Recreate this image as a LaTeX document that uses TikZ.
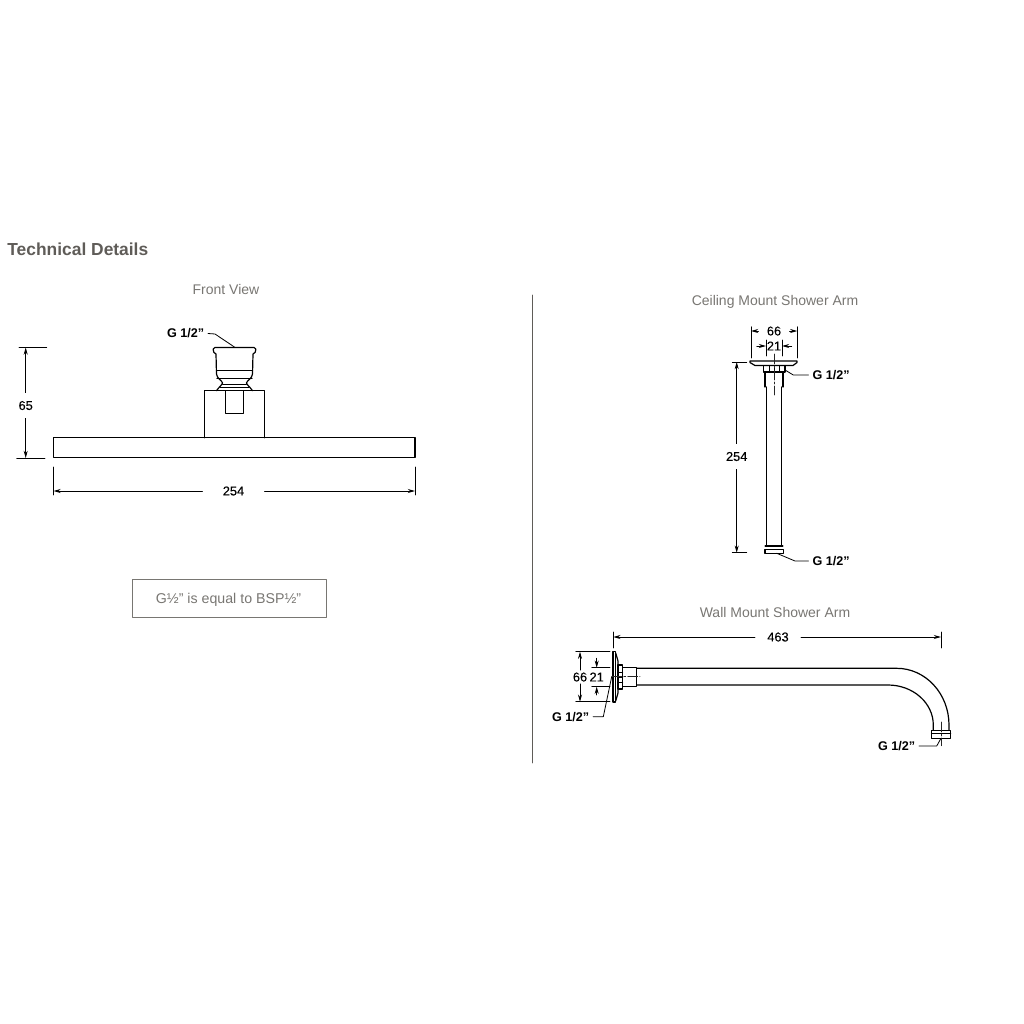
\documentclass[tikz,border=0pt]{standalone}
\usepackage{fontspec}
\setmainfont{Liberation Sans}
\newfontfamily\dimfont[FakeBold=0.2]{Liberation Sans}
\definecolor{headgray}{RGB}{95,92,88}
\definecolor{titlegray}{RGB}{120,118,114}
\usetikzlibrary{arrows.meta}
\tikzset{
	part/.style={line width=0.6pt, black},
	thin part/.style={line width=0.4pt, black},
	dimline/.style={line width=0.4pt, black, {Stealth[length=3.6pt,width=2pt]}-},
	extline/.style={line width=0.4pt, black},
	leader/.style={line width=0.4pt, black},
	centreline/.style={line width=0.3pt, black!85, dash pattern=on 5pt off 1pt on 1pt off 1pt},
	dimlabel/.style={font=\fontsize{6.4}{7}\dimfont, black, inner sep=1.5pt},
	threadlabel/.style={font=\fontsize{6.3}{7}\selectfont\bfseries, black, inner sep=0pt, outer xsep=2pt},
	viewtitle/.style={font=\fontsize{7}{9}\selectfont, titlegray, inner sep=0pt, text height=5.2pt, text depth=1.5pt},
}
\begin{document}
\begin{tikzpicture}[x=0.5pt, y=-0.5pt, line join=round, line cap=round]
	\useasboundingbox (0,0) rectangle (1024,1024);
	\node[anchor=west, inner sep=0pt, font=\fontsize{8.7}{10}\selectfont\bfseries, headgray] (heading) at (7,249) {Technical Details};
	\node[viewtitle] (front title) at (226,291) {Front View};
	\node[viewtitle] (ceiling title) at (775,302) {Ceiling Mount Shower Arm};
	\node[viewtitle] (wall title) at (775,614) {Wall Mount Shower Arm};
	\draw[line width=0.4pt, headgray] (532.5,295)--(532.5,763);
	\node[draw=headgray, line width=0.35pt, minimum width=97pt, minimum height=19pt, inner sep=0pt, titlegray] (note) at (229,598) {};
	\node[viewtitle, font=\fontsize{7.1}{9}\selectfont] (note text) at (228.5,600) {G½” is equal to BSP½”};

	% front view
	\draw[part] (53.5,437.7) rectangle (415,457.7);
	\draw[part] (204.5,437.7)--(204.5,390.7)--(264.5,390.7)--(264.5,437.7);
	\draw[part] (225.5,390.7)--(225.5,413.3)--(243.5,413.3)--(243.5,390.7);
	\draw[part] (216.5,390.7)..controls (219,387) and (222,385) .. (222.5,383)
		..controls (222,380) and (217,379) .. (216.5,374)--(216,354)
		..controls (214,353) and (213.3,352) .. (213.3,350)--(213.3,349)
		..controls (213.3,348) and (214,347.4) .. (215,347.4)--(254,347.4)
		..controls (255,347.4) and (255.7,348) .. (255.7,349)--(255.7,350)
		..controls (255.7,352) and (255,353) .. (253,354)--(252.5,374)
		..controls (252,379) and (247,380) .. (246.5,383)
		..controls (247,385) and (250,387) .. (252.5,390.7);
	\draw[part] (216.5,370.7)--(252.5,370.7);
	\draw[part] (217,378.5)--(252,378.5);
	\draw[thin part] (222.5,384)--(246.5,384);
	\draw[thin part] (220,387)--(249,387);
	\coordinate (front cup) at (235,347.4);
	\node[threadlabel, anchor=west] (front thread) at (163,333.5) {G 1/2"};
	\draw[leader] (front thread.east)--(215,334)--(front cup);
	\coordinate (h top) at (25.7,347.5);
	\coordinate (h bot) at (25.7,458);
	\draw[extline] (19,347.5)--(46.7,347.5);
	\draw[extline] (16.7,458)--(45,458);
	\node[dimlabel, inner ysep=4pt] (dim65) at (25.7,405.5) {65};
	\draw[dimline] (h top)--(dim65);
	\draw[dimline] (h bot)--(dim65);
	\coordinate (w left) at (53.5,491);
	\coordinate (w right) at (415,491);
	\draw[extline] (53.5,467)--(53.5,495);
	\draw[extline] (415,467)--(415,495);
	\node[dimlabel, inner xsep=10pt] (dim254) at (233.5,491) {254};
	\draw[dimline] (w left)--(dim254);
	\draw[dimline] (w right)--(dim254);

	% ceiling mount
	\draw[part] (750,361)--(797,361)--(797,362.5)--(793,365.5)--(755,365.5)--(750,362.5)--cycle;
	\draw[part] (763.3,365.5) rectangle (785,372);
	\draw[thin part] (769,365.5)--(769,372) (774,365.5)--(774,372) (779.5,365.5)--(779.5,372);
	\draw[part] (765,372)--(765,387) (783,372)--(783,387);
	\draw[part] (766.3,387)--(766.3,545) (781.7,387)--(781.7,545);
	\draw[line width=1.1pt] (765.5,546)--(782.5,546);
	\draw[part] (765,549.3) rectangle (783.3,553.3);
	\draw[centreline] (774,354)--(774,395);
	\coordinate (ceiling nut) at (785,370);
	\coordinate (ceiling end) at (776.7,553.3);
	\coordinate (c66 l) at (751,331);
	\coordinate (c66 r) at (797.3,331);
	\draw[extline] (751,326.7)--(751,358) (797.3,326.7)--(797.3,358);
	\node[dimlabel, inner xsep=4pt] (ceil66) at (774,331) {66};
	\draw[dimline] (c66 l)--(ceil66);
	\draw[dimline] (c66 r)--(ceil66);
	\coordinate (c21 l) at (766,346);
	\coordinate (c21 r) at (782,346);
	\draw[extline] (766,340)--(766,356) (782,340)--(782,356);
	\node[dimlabel, inner sep=0pt] (ceil21) at (774,346) {21};
	\draw[dimline] (c21 l)--(756.7,346);
	\draw[dimline] (c21 r)--(791.7,346);
	\coordinate (c254 t) at (736.7,362);
	\coordinate (c254 b) at (736.7,552.7);
	\draw[extline] (732.3,362)--(746.7,362) (732.3,552.7)--(746.7,552.7);
	\node[dimlabel, inner ysep=4pt] (ceil254) at (736.7,456.5) {254};
	\draw[dimline] (c254 t)--(ceil254);
	\draw[dimline] (c254 b)--(ceil254);
	\node[threadlabel, anchor=west] (ceil thread a) at (808.5,375) {G 1/2”};
	\node[threadlabel, anchor=west] (ceil thread b) at (808.5,561) {G 1/2”};
	\draw[leader] (ceiling nut)--(793.3,375)--(ceil thread a.west);
	\draw[leader] (ceiling end)--(795,561)--(ceil thread b.west);

	% wall mount
	\draw[part] (613,651.7) rectangle (615.7,702);
	\draw[part] (615.7,653)--(618,661)--(618,693)--(615.7,701);
	\draw[part] (618,665) rectangle (622.7,689);
	\draw[thin part] (618,672)--(622.7,672) (618,677)--(622.7,677) (618,682)--(622.7,682);
	\draw[part] (622.7,667.7)--(636.7,667.7)--(636.7,686.7)--(622.7,686.7);
	\draw[part] (636.7,668.3)--(896.7,668.3) arc[start angle=-90, end angle=0, x radius=52.3, y radius=56.7]--(949,730);
	\draw[part] (636.7,685)--(888,685) arc[start angle=-90, end angle=0, x radius=45.3, y radius=40]--(933.3,730);
	\draw[part] (931.7,730.5)--(950.5,730.5)--(950.5,738.3)--(931.7,738.3)--cycle;
	\draw[line width=0.9pt] (931.7,733.5)--(950.5,733.5);
	\draw[centreline] (611.7,676.7)--(640,676.7);
	\draw[centreline] (941,722)--(941,745.7);
	\coordinate (w463 l) at (613.3,637);
	\coordinate (w463 r) at (941,637);
	\draw[extline] (613.3,632)--(613.3,648) (941,632)--(941,648);
	\node[dimlabel, inner xsep=6pt] (wall463) at (778,637) {463};
	\draw[dimline] (w463 l)--(wall463);
	\draw[dimline] (w463 r)--(wall463);
	\coordinate (w66 t) at (580,651.7);
	\coordinate (w66 b) at (580,701.7);
	\draw[extline] (575.7,651.7)--(610,651.7) (575.7,701.7)--(610,701.7);
	\node[dimlabel, inner ysep=1pt] (wall66) at (580,677) {66};
	\draw[dimline] (w66 t)--(wall66);
	\draw[dimline] (w66 b)--(wall66);
	\coordinate (w21 t) at (596.7,667.7);
	\coordinate (w21 b) at (596.7,686.7);
	\draw[extline] (591.7,667.7)--(610,667.7) (591.7,686.7)--(610,686.7);
	\node[dimlabel, inner sep=0pt] (wall21) at (596.7,677) {21};
	\draw[dimline] (w21 t)--(596.7,658.3);
	\draw[dimline] (w21 b)--(596.7,695);
	\coordinate (wall centre) at (611.7,676.7);
	\coordinate (arm end) at (941,738.3);
	\node[threadlabel, anchor=west] (wall thread a) at (548,716.7) {G 1/2"};
	\node[threadlabel, anchor=west] (wall thread b) at (874,746) {G 1/2"};
	\draw[leader] (wall centre)--(603.3,716.7)--(wall thread a.east);
	\draw[leader] (arm end)--(936.7,746)--(wall thread b.east);
\end{tikzpicture}
\end{document}
